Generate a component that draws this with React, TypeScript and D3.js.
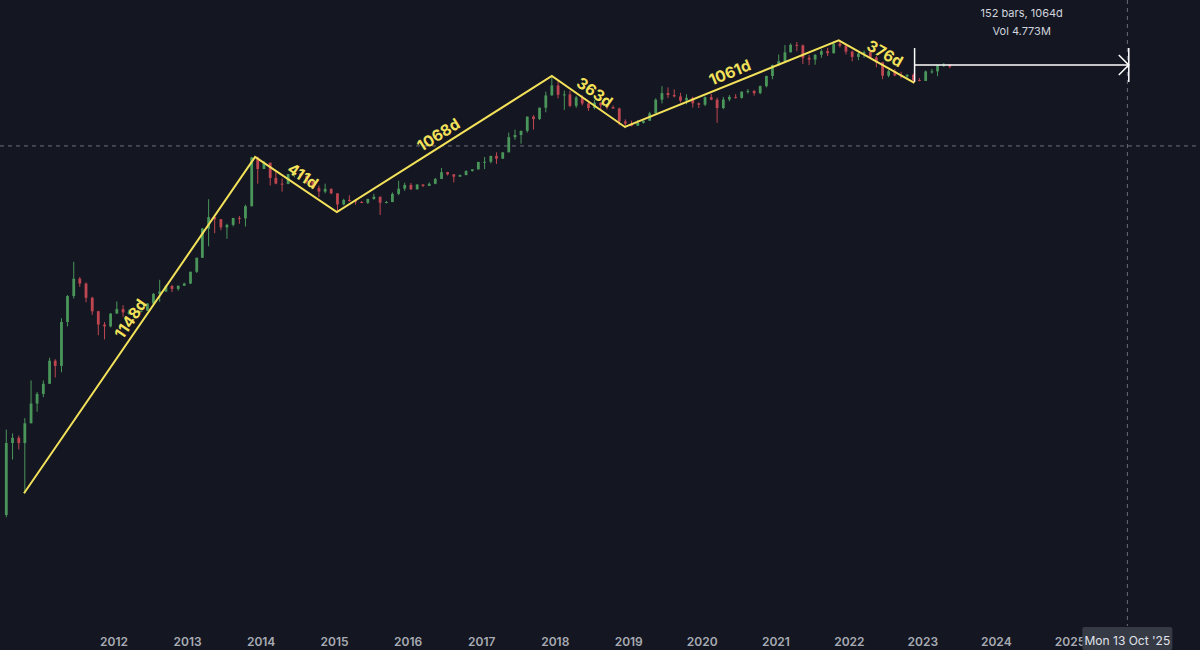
import React from 'react';
import * as d3 from 'd3';

// monthly candles: [month, open, high, low, close]
const candles: [string, number, number, number, number][] = [
  ['2010-07', 0.004, 0.08, 0.0037, 0.05],
  ['2010-08', 0.05, 0.07, 0.028, 0.06],
  ['2010-09', 0.06, 0.065, 0.04, 0.05],
  ['2010-10', 0.05, 0.12, 0.0085, 0.1],
  ['2010-11', 0.1, 0.45, 0.1, 0.2],
  ['2010-12', 0.2, 0.3, 0.15, 0.28],
  ['2011-01', 0.28, 0.45, 0.25, 0.4],
  ['2011-02', 0.4, 1.0, 0.4, 0.9],
  ['2011-03', 0.9, 0.95, 0.5, 0.75],
  ['2011-04', 0.75, 4, 0.6, 3.5],
  ['2011-05', 3.5, 9, 3, 8.7],
  ['2011-06', 8.7, 29, 8, 16],
  ['2011-07', 16, 17, 12, 13.5],
  ['2011-08', 13.5, 14, 7, 8.2],
  ['2011-09', 8.2, 8.5, 4.5, 5.1],
  ['2011-10', 5.1, 5.2, 2.2, 3.2],
  ['2011-11', 3.2, 3.5, 1.9, 3.0],
  ['2011-12', 3.0, 4.8, 2.9, 4.7],
  ['2012-01', 4.7, 7.2, 4.7, 5.5],
  ['2012-02', 5.5, 6.3, 4.2, 4.9],
  ['2012-03', 4.9, 5.4, 4.5, 4.9],
  ['2012-04', 4.9, 5.3, 4.8, 5.0],
  ['2012-05', 5.0, 5.2, 4.9, 5.2],
  ['2012-06', 5.2, 6.8, 5.2, 6.7],
  ['2012-07', 6.7, 9.7, 6.5, 9.4],
  ['2012-08', 9.4, 15.4, 7.1, 10.2],
  ['2012-09', 10.2, 12.9, 10, 12.4],
  ['2012-10', 12.4, 12.9, 10, 11.2],
  ['2012-11', 11.2, 12.6, 10.5, 12.5],
  ['2012-12', 12.5, 13.9, 12.5, 13.5],
  ['2013-01', 13.5, 20.5, 13.3, 20.4],
  ['2013-02', 20.4, 33.4, 19.6, 33.4],
  ['2013-03', 33.4, 95, 33, 93],
  ['2013-04', 93, 260, 50, 139],
  ['2013-05', 139, 139, 79, 129],
  ['2013-06', 129, 130, 88, 97],
  ['2013-07', 97, 110, 65, 106],
  ['2013-08', 106, 135, 100, 135],
  ['2013-09', 135, 145, 110, 133],
  ['2013-10', 133, 215, 100, 204],
  ['2013-11', 204, 1150, 202, 1130],
  ['2013-12', 1130, 1165, 450, 754],
  ['2014-01', 754, 1000, 750, 940],
  ['2014-02', 940, 940, 420, 550],
  ['2014-03', 550, 700, 440, 450],
  ['2014-04', 450, 540, 340, 445],
  ['2014-05', 445, 630, 440, 630],
  ['2014-06', 630, 680, 560, 640],
  ['2014-07', 640, 650, 580, 590],
  ['2014-08', 590, 600, 450, 480],
  ['2014-09', 480, 500, 380, 385],
  ['2014-10', 385, 420, 280, 340],
  ['2014-11', 340, 450, 320, 375],
  ['2014-12', 375, 380, 310, 320],
  ['2015-01', 320, 320, 166, 217],
  ['2015-02', 217, 265, 210, 254],
  ['2015-03', 254, 300, 240, 244],
  ['2015-04', 244, 260, 215, 236],
  ['2015-05', 236, 245, 228, 230],
  ['2015-06', 230, 265, 220, 263],
  ['2015-07', 263, 315, 255, 284],
  ['2015-08', 284, 285, 150, 230],
  ['2015-09', 230, 245, 225, 236],
  ['2015-10', 236, 330, 235, 314],
  ['2015-11', 314, 500, 300, 377],
  ['2015-12', 377, 465, 350, 430],
  ['2016-01', 430, 460, 360, 369],
  ['2016-02', 369, 440, 365, 437],
  ['2016-03', 437, 440, 400, 416],
  ['2016-04', 416, 470, 415, 448],
  ['2016-05', 448, 550, 440, 531],
  ['2016-06', 531, 780, 530, 673],
  ['2016-07', 673, 680, 600, 624],
  ['2016-08', 624, 630, 470, 575],
  ['2016-09', 575, 620, 570, 608],
  ['2016-10', 608, 720, 605, 700],
  ['2016-11', 700, 750, 690, 742],
  ['2016-12', 742, 970, 740, 963],
  ['2017-01', 963, 1150, 750, 970],
  ['2017-02', 970, 1200, 920, 1190],
  ['2017-03', 1190, 1350, 900, 1080],
  ['2017-04', 1080, 1350, 1080, 1350],
  ['2017-05', 1350, 2700, 1350, 2300],
  ['2017-06', 2300, 3000, 2100, 2480],
  ['2017-07', 2480, 2900, 1830, 2870],
  ['2017-08', 2870, 4750, 2700, 4730],
  ['2017-09', 4730, 4980, 3000, 4340],
  ['2017-10', 4340, 6480, 4200, 6470],
  ['2017-11', 6470, 11400, 5500, 9950],
  ['2017-12', 9950, 19700, 9900, 14150],
  ['2018-01', 14150, 17200, 9000, 10200],
  ['2018-02', 10200, 11800, 6000, 10300],
  ['2018-03', 10300, 11700, 6600, 6900],
  ['2018-04', 6900, 9800, 6400, 9250],
  ['2018-05', 9250, 10000, 7000, 7500],
  ['2018-06', 7500, 7800, 5800, 6400],
  ['2018-07', 6400, 8500, 6100, 7730],
  ['2018-08', 7730, 7800, 5900, 7000],
  ['2018-09', 7000, 7400, 6100, 6600],
  ['2018-10', 6600, 7000, 6200, 6300],
  ['2018-11', 6300, 6500, 3500, 4000],
  ['2018-12', 4000, 4300, 3150, 3700],
  ['2019-01', 3700, 4100, 3350, 3440],
  ['2019-02', 3440, 4200, 3400, 3800],
  ['2019-03', 3800, 4100, 3700, 4100],
  ['2019-04', 4100, 5600, 4100, 5300],
  ['2019-05', 5300, 9000, 5300, 8570],
  ['2019-06', 8570, 13800, 7500, 10800],
  ['2019-07', 10800, 13200, 9100, 10100],
  ['2019-08', 10100, 12300, 9300, 9600],
  ['2019-09', 9600, 10900, 7800, 8300],
  ['2019-10', 8300, 10350, 7300, 9150],
  ['2019-11', 9150, 9500, 6500, 7550],
  ['2019-12', 7550, 7750, 6400, 7200],
  ['2020-01', 7200, 9600, 6850, 9350],
  ['2020-02', 9350, 10500, 8450, 8550],
  ['2020-03', 8550, 9200, 3800, 6400],
  ['2020-04', 6400, 9450, 6150, 8630],
  ['2020-05', 8630, 10080, 8100, 9450],
  ['2020-06', 9450, 10400, 8900, 9140],
  ['2020-07', 9140, 11450, 8900, 11350],
  ['2020-08', 11350, 12470, 10600, 11650],
  ['2020-09', 11650, 12100, 9900, 10780],
  ['2020-10', 10780, 14100, 10400, 13800],
  ['2020-11', 13800, 19900, 13200, 19700],
  ['2020-12', 19700, 29300, 17600, 29000],
  ['2021-01', 29000, 41900, 28000, 33100],
  ['2021-02', 33100, 58300, 32300, 45200],
  ['2021-03', 45200, 61800, 45000, 58800],
  ['2021-04', 58800, 64900, 47000, 57700],
  ['2021-05', 57700, 59500, 30000, 37300],
  ['2021-06', 37300, 41300, 28800, 35000],
  ['2021-07', 35000, 42400, 29300, 41500],
  ['2021-08', 41500, 50500, 37300, 47100],
  ['2021-09', 47100, 52900, 39600, 43800],
  ['2021-10', 43800, 67000, 43300, 61300],
  ['2021-11', 61300, 69000, 53500, 57000],
  ['2021-12', 57000, 59000, 42000, 46300],
  ['2022-01', 46300, 48000, 33000, 38500],
  ['2022-02', 38500, 45800, 34300, 43200],
  ['2022-03', 43200, 48200, 37200, 45500],
  ['2022-04', 45500, 47400, 37600, 37700],
  ['2022-05', 37700, 40000, 26700, 31800],
  ['2022-06', 31800, 31900, 17600, 19900],
  ['2022-07', 19900, 24700, 18800, 23300],
  ['2022-08', 23300, 25200, 19500, 20050],
  ['2022-09', 20050, 22800, 18150, 19400],
  ['2022-10', 19400, 21000, 18200, 20500],
  ['2022-11', 20500, 21500, 15500, 17150],
  ['2022-12', 17150, 18400, 16300, 16550],
  ['2023-01', 16550, 23900, 16500, 23100],
  ['2023-02', 23100, 25250, 21400, 23150],
  ['2023-03', 23150, 29200, 19550, 28480],
  ['2023-04', 28480, 31000, 26900, 29250],
  ['2023-05', 29250, 29800, 25800, 27200],
];

// cycle pivots joined by the yellow trend lines
const pivotDates = ['2010-10-11', '2013-12-02', '2015-01-12', '2017-12-15', '2018-12-13', '2021-11-09', '2022-11-20'];
const pivotPrices = [0.0086, 1150, 166, 19700, 3290, 69000, 15500];
const legLabels = ['1148d', '411d', '1068d', '363d', '1061d', '376d'];
const legLabelAt = [0.5, 0.51, 0.5, 0.5, 0.51, 0.54];

// date range measurement
const measureStart = '2022-11-21';
const measureEnd = '2025-10-20';
const measurePrice = 29000;
const measureTop = 52500;
const measureBottom = 16000;
const measureText = ['152 bars, 1064d', 'Vol 4.773M'];

// crosshair
const crossDate = '2025-10-13';
const crossPrice = 1690;
const crossLabel = "Mon 13 Oct '25";

const years = [2012, 2013, 2014, 2015, 2016, 2017, 2018, 2019, 2020, 2021, 2022, 2023, 2024, 2025];

const W = 1200, H = 650;
const BG = '#141722';
const UP = '#4a955a';
const DOWN = '#bf4650';
const YELLOW = '#f3e15a';

export default function App() {
  const parse = d3.timeParse('%Y-%m-%d');
  const parseMonth = d3.timeParse('%Y-%m');

  const x = d3.scaleTime()
    .domain([new Date(2012, 0, 1), new Date(2025, 0, 1)])
    .range([114, 1070]);
  const y = d3.scaleLog()
    .domain([1, 100000])
    .range([357.7, 29.7]);

  const bodyW = 2.8;
  const font = 'Inter, Roboto, "Noto Sans", sans-serif';

  const pts = pivotDates.map((d, i) => [x(parse(d) as Date), y(pivotPrices[i])]);
  const line = d3.line();

  const mx0 = x(parse(measureStart) as Date);
  const mx1 = x(parse(measureEnd) as Date);
  const my = y(measurePrice);
  const myTop = y(measureTop);
  const myBot = y(measureBottom);
  const cx = x(parse(crossDate) as Date);
  const cy = y(crossPrice);

  return (
    <svg width={W} height={H} style={{ position: 'absolute', left: 0, top: 0, display: 'block' }}>
      <rect width={W} height={H} fill={BG} />

      {/* crosshair */}
      <line x1={0} x2={W} y1={cy} y2={cy} stroke="#6a6d78" strokeDasharray="4 4" />
      <line x1={cx} x2={cx} y1={0} y2={626} stroke="#6a6d78" strokeDasharray="4 4" />

      {/* candles */}
      {candles.map(([m, o, h, l, c]) => {
        const d = parseMonth(m) as Date;
        const xc = x(d3.timeDay.offset(d, 14));
        const col = c >= o ? UP : DOWN;
        const top = y(Math.max(o, c));
        const bot = y(Math.min(o, c));
        return (
          <g key={m}>
            <line x1={xc} x2={xc} y1={y(h)} y2={y(l)} stroke={col} strokeWidth={1} />
            <rect x={xc - bodyW / 2} y={top} width={bodyW} height={Math.max(1, bot - top)} fill={col} />
          </g>
        );
      })}

      {/* yellow cycle legs */}
      <path d={line(pts as [number, number][]) || ''} fill="none" stroke={YELLOW} strokeWidth={2} strokeLinejoin="miter" />
      {legLabels.map((lab, i) => {
        const [x0, y0] = pts[i];
        const [x1, y1] = pts[i + 1];
        const t = legLabelAt[i];
        const dx = x1 - x0, dy = y1 - y0;
        const len = Math.hypot(dx, dy);
        let nx = dy / len, ny = -dx / len;
        if (ny > 0) { nx = -nx; ny = -ny; }
        const px = x0 + dx * t + nx * 11;
        const py = y0 + dy * t + ny * 11;
        const ang = (Math.atan2(dy, dx) * 180) / Math.PI;
        return (
          <text key={lab} x={px} y={py} transform={`rotate(${ang},${px},${py})`}
            textAnchor="middle" dominantBaseline="central" fill={YELLOW}
            fontFamily={font} fontWeight={700} fontSize={15.5}>{lab}</text>
        );
      })}

      {/* date range measurement */}
      <g stroke="#ffffff" strokeWidth={1.5} fill="none">
        <line x1={mx0} x2={mx0} y1={myTop} y2={myBot} />
        <line x1={mx1} x2={mx1} y1={myTop} y2={myBot} />
        <line x1={mx0} x2={mx1} y1={my} y2={my} />
        <polyline points={`${mx1 - 10},${my - 10} ${mx1},${my} ${mx1 - 10},${my + 10}`} />
      </g>
      {measureText.map((t, i) => (
        <text key={t} x={(mx0 + mx1) / 2} y={13 + i * 18} textAnchor="middle" dominantBaseline="central"
          fill="#d1d4dc" fontFamily={font} fontSize={11}>{t}</text>
      ))}

      {/* time axis */}
      {years.map(yr => (
        <text key={yr} x={x(new Date(yr, 0, 1))} y={641} textAnchor="middle" dominantBaseline="central"
          fill="#a8abb3" fontFamily={font} fontWeight={600} fontSize={12}>{yr}</text>
      ))}
      <rect x={cx - 45} y={627} width={90} height={23} rx={2} fill="#363a45" />
      <text x={cx} y={640} textAnchor="middle" dominantBaseline="central" fill="#e0e3eb"
        fontFamily={font} fontSize={12}>{crossLabel}</text>
    </svg>
  );
}
